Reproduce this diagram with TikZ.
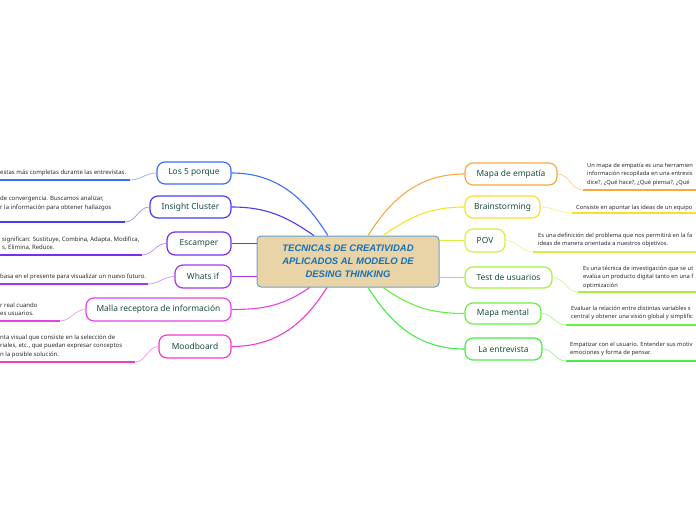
\documentclass[tikz,border=0pt]{standalone}
\usepackage{fontspec}
\setmainfont{Noto Sans}
\newfontfamily\centerfont{Liberation Sans}
\usetikzlibrary{calc}
\definecolor{kblue}{HTML}{3D6EF5}
\definecolor{kindigo}{HTML}{4B3CF0}
\definecolor{kpurple}{HTML}{7B2CF0}
\definecolor{kviolet}{HTML}{A436F0}
\definecolor{kmagenta}{HTML}{E444E6}
\definecolor{kpink}{HTML}{F23CC6}
\definecolor{korange}{HTML}{F8A844}
\definecolor{kyellow}{HTML}{F6E22A}
\definecolor{klime}{HTML}{D2F040}
\definecolor{kyg}{HTML}{A6F040}
\definecolor{kgreen}{HTML}{6AF03E}
\definecolor{kgreen2}{HTML}{44EE44}
\definecolor{nodetext}{HTML}{1B4D3E}
\definecolor{desctext}{HTML}{2A2A2A}
\definecolor{centerfill}{HTML}{E8D4A6}
\definecolor{centerborder}{HTML}{6AA0D0}
\definecolor{centertext}{HTML}{1A6FB5}
\begin{document}
\begin{tikzpicture}[x=1pt,y=1pt,
  every node/.style={inner sep=0pt},
  topic/.style={draw=#1, line width=1.2pt, rounded corners=8pt, fill=white,
    font=\fontsize{8.4}{9}\selectfont, text=nodetext},
  desc/.style={font=\fontsize{6}{8.5}\selectfont, text=desctext, align=left, anchor=base west},
  rdesc/.style={desc, font=\fontsize{5.75}{8.5}\selectfont},
  link/.style={draw=#1, line width=1.1pt},
  under/.style={draw=#1, line width=1.8pt},
  twig/.style={draw=#1!55!white, line width=0.7pt},
]
\useasboundingbox (0,0) rectangle (696,-520);

% centre
\node[draw=centerborder, line width=1pt, fill=centerfill, rounded corners=4pt,
  minimum width=182pt, minimum height=51pt, align=center, text=centertext,
  font=\centerfont\bfseries\itshape\fontsize{9.5}{13}\selectfont] (c) at (348,-261.5)
  {TECNICAS DE CREATIVIDAD\\APLICADOS AL MODELO DE\\DESING THINKING};

% left topics
\node[topic=kblue, minimum width=74pt, minimum height=22pt] (n1) at (194,-173) {Los 5 porque};
\node[topic=kindigo, minimum width=81pt, minimum height=22pt] (n2) at (190.5,-207) {Insight Cluster};
\node[topic=kpurple, minimum width=64pt, minimum height=23pt] (n3) at (199,-243.5) {Escamper};
\node[topic=kviolet, minimum width=56pt, minimum height=23pt] (n4) at (203,-276.5) {Whats if};
\node[topic=kmagenta, minimum width=145pt, minimum height=23pt] (n5) at (158.5,-309.5) {Malla receptora de información};
\node[topic=kpink, minimum width=72pt, minimum height=23pt] (n6) at (195,-346.5) {Moodboard};

% right topics
\node[topic=korange, minimum width=92pt, minimum height=22pt] (r1) at (511,-174) {Mapa de empatía};
\node[topic=kyellow, minimum width=75pt, minimum height=22pt] (r2) at (502.5,-207) {Brainstorming};
\node[topic=klime, minimum width=40pt, minimum height=23pt] (r3) at (485,-240.5) {POV};
\node[topic=kyg, minimum width=87pt, minimum height=21pt] (r4) at (508.5,-277.5) {Test de usuarios};
\node[topic=kgreen, minimum width=76pt, minimum height=21pt] (r5) at (503,-313.5) {Mapa mental};
\node[topic=kgreen2, minimum width=77pt, minimum height=22pt] (r6) at (503.5,-349) {La entrevista};

% connectors from centre
\draw[link=kblue] ($(c.north west)!0.39!(c.north east)$) to[out=122,in=0] (n1.east);
\draw[link=kindigo] ($(c.north west)!0.313!(c.north east)$) to[out=145,in=0] (n2.east);
\draw[link=kpurple] (n3.east) -- (n3.east -| c.west);
\draw[link=kviolet] (n4.east) -- (n4.east -| c.west);
\draw[link=kmagenta] ($(c.south west)!0.29!(c.south east)$) to[out=-145,in=0] (n5.east);
\draw[link=kpink] ($(c.south west)!0.385!(c.south east)$) to[out=-122,in=0] (n6.east);
\draw[link=korange] ($(c.north west)!0.61!(c.north east)$) to[out=58,in=180] (r1.west);
\draw[link=kyellow] ($(c.north west)!0.692!(c.north east)$) to[out=35,in=180] (r2.west);
\draw[link=klime] (r3.west) -- (r3.west -| c.east);
\draw[link=kyg] (r4.west) -- (r4.west -| c.east);
\draw[link=kgreen] ($(c.south west)!0.692!(c.south east)$) to[out=-35,in=180] (r5.west);
\draw[link=kgreen2] ($(c.south west)!0.61!(c.south east)$) to[out=-58,in=180] (r6.west);

% left descriptions
\coordinate (u1) at (130,-180);
\draw[twig=kblue] (n1.west) to[out=180,in=0] (u1);
\draw[under=kblue] (u1) -- (-2,-180);
\node[desc] (d1) at (0,-174.5) {estas más completas durante las entrevistas.};

\coordinate (u2) at (125,-222);
\draw[twig=kindigo] (n2.west) to[out=180,in=0] (u2);
\draw[under=kindigo] (u2) -- (-2,-222);
\node[desc] (d2) at (0,-209) {de convergencia. Buscamos analizar,\\r la información para obtener hallazgos};

\coordinate (u3) at (142,-255);
\draw[twig=kpurple] (n3.west) to[out=180,in=0] (u3);
\draw[under=kpurple] (u3) -- (-2,-255);
\node[desc] (d3) at (2,-249.5) {significan: Sustituye, Combina, Adapta, Modifica,\\s, Elimina, Reduce.};

\coordinate (u4) at (148,-284);
\draw[twig=kviolet] (n4.west) to[out=180,in=0] (u4);
\draw[under=kviolet] (u4) -- (-2,-284);
\node[desc] (d4) at (0,-278) {basa en el presente para visualizar un nuevo futuro.};

\coordinate (u5) at (60,-321);
\draw[twig=kmagenta] (n5.west) to[out=180,in=0] (u5);
\draw[under=kmagenta] (u5) -- (-2,-321);
\node[desc] (d5) at (0,-315.5) {r real cuando\\es usuarios.};

\coordinate (u6) at (135,-362);
\draw[twig=kpink] (n6.west) to[out=180,in=0] (u6);
\draw[under=kpink] (u6) -- (-2,-362);
\node[desc] (d6) at (0,-356) {nta visual que consiste en la selección de\\riales, etc., que puedan expresar conceptos\\n la posible solución.};

% right descriptions
\coordinate (u7) at (583,-190);
\draw[twig=korange] (r1.east) to[out=0,in=180] (u7);
\draw[under=korange] (u7) -- (698,-190);
\node[rdesc] (e1) at (587,-184) {Un mapa de empatía es una herramien\\información recopilada en una entrevis\\dice?, ¿Qué hace?, ¿Qué piensa?, ¿Qué};

\coordinate (u8) at (572,-213);
\draw[twig=kyellow] (r2.east) to[out=0,in=180] (u8);
\draw[under=kyellow] (u8) -- (698,-213);
\node[rdesc] (e2) at (576,-209) {Consiste en apuntar las ideas de un equipo};

\coordinate (u9) at (533,-252);
\draw[twig=klime] (r3.east) to[out=0,in=180] (u9);
\draw[under=klime] (u9) -- (698,-252);
\node[rdesc] (e3) at (538,-245.5) {Es una definición del problema que nos permitirá en la fa\\ideas de manera orientada a nuestros objetivos.};

\coordinate (u10) at (578,-292);
\draw[twig=kyg] (r4.east) to[out=0,in=180] (u10);
\draw[under=kyg] (u10) -- (698,-292);
\node[rdesc] (e4) at (583,-287) {Es una técnica de investigación que se ut\\evalúa un producto digital tanto en una f\\optimización};

\coordinate (u11) at (566,-325);
\draw[twig=kgreen] (r5.east) to[out=0,in=180] (u11);
\draw[under=kgreen] (u11) -- (698,-325);
\node[rdesc] (e5) at (571,-318.5) {Evaluar la relación entre distintas variables s\\central y obtener una visión global y simplific};

\coordinate (u12) at (566,-361);
\draw[twig=kgreen2] (r6.east) to[out=0,in=180] (u12);
\draw[under=kgreen2] (u12) -- (698,-361);
\node[rdesc] (e6) at (570,-354.5) {Empatizar con el usuario. Entender sus motiv\\emociones y forma de pensar.};
\end{tikzpicture}
\end{document}
